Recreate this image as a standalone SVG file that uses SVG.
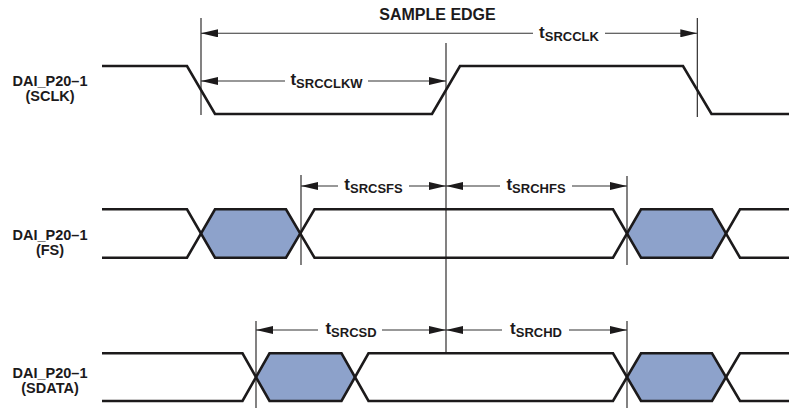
<svg xmlns="http://www.w3.org/2000/svg" width="789" height="408" viewBox="0 0 789 408">
<style>
  .sig { fill: none; stroke: #1c1a1b; stroke-width: 2.6; stroke-linejoin: miter; }
  .hex { fill: #8DA2CB; stroke: none; }
  .vl { stroke: #1c1a1b; stroke-width: 1.1; fill: none; }
  .dim { stroke: #333; stroke-width: 1.1; fill: none; }
  .lbl { font-family: "Liberation Sans", Arial, sans-serif; font-weight: bold; font-size: 14.5px; fill: #1c1a1b; }
  .big { font-size: 16px; }
  .t { font-size: 17px; }
  .sub { font-size: 13px; }
</style>
<defs>
  <marker id="ah" markerUnits="userSpaceOnUse" markerWidth="17" markerHeight="8" refX="17" refY="4" orient="auto-start-reverse" viewBox="0 0 17 8">
    <path d="M0,0 L17,4 L0,8 z" fill="#1c1a1b"/>
  </marker>
</defs>
<rect width="789" height="408" fill="#ffffff"/>

<g id="sclk">
  <polyline class="sig" points="102,66 187,66 215,114 432,114 460,66 683,66 711.5,114 789,114"/>
  <text class="lbl" x="50" y="85.5" text-anchor="middle">DAI_P20–1</text>
  <text class="lbl" x="50" y="100.5" text-anchor="middle">(SCLK)</text>
</g>

<g id="fs">
  <polygon class="hex" points="201,233.5 215,209.3 286,209.3 300.5,233.5 286,257.7 215,257.7"/>
  <polygon class="hex" points="627,233.5 641,209.3 712,209.3 726,233.5 712,257.7 641,257.7"/>
  <path class="sig" d="M102,209.3 H187 L215,257.7 H286 L314.5,209.3 H613 L641,257.7 H712 L740,209.3 H789"/>
  <path class="sig" d="M102,257.7 H187 L215,209.3 H286 L314.5,257.7 H613 L641,209.3 H712 L740,257.7 H789"/>
  <text class="lbl" x="50" y="239.5" text-anchor="middle">DAI_P20–1</text>
  <text class="lbl" x="50" y="254.5" text-anchor="middle">(FS)</text>
</g>

<g id="sdata">
  <polygon class="hex" points="256,377 269.5,353.3 341.5,353.3 355,377 341.5,401 269.5,401"/>
  <polygon class="hex" points="627,377 641,353.3 712,353.3 726,377 712,401 641,401"/>
  <path class="sig" d="M102,353.3 H242.5 L269.5,401 H341.5 L368.5,353.3 H613 L641,401 H712 L740,353.3 H789"/>
  <path class="sig" d="M102,401 H242.5 L269.5,353.3 H341.5 L368.5,401 H613 L641,353.3 H712 L740,401 H789"/>
  <text class="lbl" x="50" y="377.5" text-anchor="middle">DAI_P20–1</text>
  <text class="lbl" x="50" y="392.5" text-anchor="middle">(SDATA)</text>
</g>

<g id="reference-lines">
  <line class="vl" x1="201" y1="18" x2="201" y2="115"/>
  <line class="vl" x1="697.3" y1="18" x2="697.3" y2="117"/>
  <line class="vl" x1="446" y1="43" x2="446" y2="353"/>
  <line class="vl" x1="301" y1="175" x2="301" y2="265"/>
  <line class="vl" x1="627" y1="176" x2="627" y2="265"/>
  <line class="vl" x1="256" y1="321" x2="256" y2="408"/>
  <line class="vl" x1="627" y1="321" x2="627" y2="408"/>
  <text class="lbl big" x="437.5" y="19.5" text-anchor="middle">SAMPLE EDGE</text>
</g>

<g id="connectors">
  <!-- tSRCCLK -->
  <line class="dim" x1="201" y1="33.3" x2="533" y2="33.3" marker-start="url(#ah)"/>
  <line class="dim" x1="605" y1="33.3" x2="697.3" y2="33.3" marker-end="url(#ah)"/>
  <text class="lbl t" x="569" y="37.5" text-anchor="middle">t<tspan class="sub" dy="3">SRCCLK</tspan></text>
  <!-- tSRCCLKW -->
  <line class="dim" x1="201" y1="81" x2="285" y2="81" marker-start="url(#ah)"/>
  <line class="dim" x1="368" y1="81" x2="446" y2="81" marker-end="url(#ah)"/>
  <text class="lbl t" x="326.5" y="85" text-anchor="middle">t<tspan class="sub" dy="3">SRCCLKW</tspan></text>
  <!-- tSRCSFS -->
  <line class="dim" x1="301" y1="186" x2="338" y2="186" marker-start="url(#ah)"/>
  <line class="dim" x1="409" y1="186" x2="446" y2="186" marker-end="url(#ah)"/>
  <text class="lbl t" x="373.5" y="190" text-anchor="middle">t<tspan class="sub" dy="3">SRCSFS</tspan></text>
  <!-- tSRCHFS -->
  <line class="dim" x1="446" y1="186" x2="500" y2="186" marker-start="url(#ah)"/>
  <line class="dim" x1="572" y1="186" x2="627" y2="186" marker-end="url(#ah)"/>
  <text class="lbl t" x="536" y="190" text-anchor="middle">t<tspan class="sub" dy="3">SRCHFS</tspan></text>
  <!-- tSRCSD -->
  <line class="dim" x1="256" y1="330" x2="318" y2="330" marker-start="url(#ah)"/>
  <line class="dim" x1="382" y1="330" x2="446" y2="330" marker-end="url(#ah)"/>
  <text class="lbl t" x="351" y="334" text-anchor="middle">t<tspan class="sub" dy="3">SRCSD</tspan></text>
  <!-- tSRCHD -->
  <line class="dim" x1="446" y1="330" x2="502" y2="330" marker-start="url(#ah)"/>
  <line class="dim" x1="569" y1="330" x2="627" y2="330" marker-end="url(#ah)"/>
  <text class="lbl t" x="536" y="334" text-anchor="middle">t<tspan class="sub" dy="3">SRCHD</tspan></text>
</g>
</svg>
